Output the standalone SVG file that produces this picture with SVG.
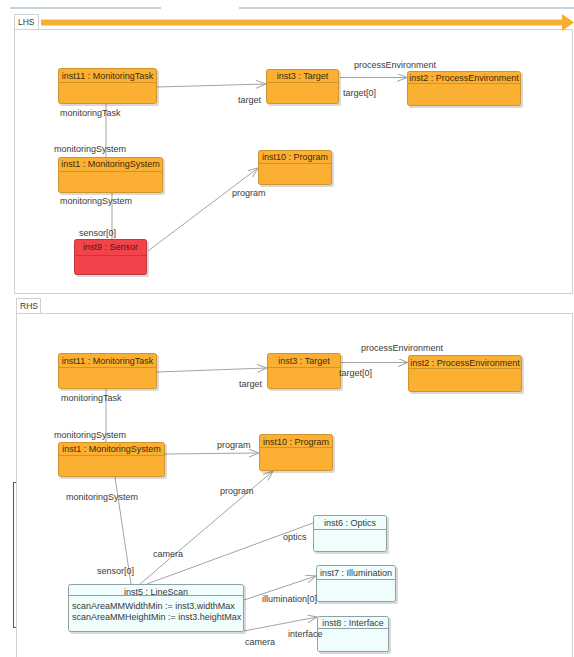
<svg xmlns="http://www.w3.org/2000/svg" width="574" height="657" viewBox="0 0 574 657">
<style>
text{font-family:"Liberation Sans",Arial,sans-serif;font-size:9px;fill:#3a3a3a}
.hd{text-anchor:middle}
.o{fill:#fbb034;stroke:#d0942c;stroke-width:1}
.r{fill:#f2434b;stroke:#c7363c;stroke-width:1}
.c{fill:#effdfd;stroke:#8ea2a6;stroke-width:1}
.sh{fill:#000;opacity:0.15}
.lo{stroke:#d0942c;stroke-width:1}
.lr{stroke:#c7363c;stroke-width:1}
.lc{stroke:#8ea2a6;stroke-width:1}
.ot{fill:#3d2b0b}
.rt{fill:#5a1212}
.e{stroke:#a3a3a3;stroke-width:1;fill:none}
.a{marker-end:url(#arr)}
.panel{fill:#fff;stroke:#c9d3d8;stroke-width:1}
</style>
<defs>
<marker id="arr" markerUnits="userSpaceOnUse" markerWidth="12" markerHeight="10" refX="10" refY="4" orient="auto">
<path d="M0,0 L10,4 L0,8" fill="none" stroke="#a3a3a3" stroke-width="1"/>
</marker>
</defs>
<rect x="0" y="0" width="574" height="657" fill="#fff"/>
<g id="topbars">
<rect x="10" y="7" width="151" height="2" fill="#c8d2da"/>
<rect x="239" y="7" width="335" height="2" fill="#c8d2da"/>
</g>
<g id="lhs-panel">
<rect class="panel" x="14.5" y="29.5" width="558" height="264"/>
<rect x="14.5" y="14.5" width="24" height="15" fill="#fff" stroke="#c9d3d8"/>
<text x="18" y="25" style="font-size:8.5px">LHS</text>
<rect x="41" y="19.5" width="523" height="6" fill="#f9ad33"/>
<path d="M562,14 L574,22.5 L562,31 Z" fill="#f9ad33"/>
</g>
<g id="rhs-panel">
<rect class="panel" x="16.5" y="313.5" width="556" height="350"/>
<rect x="16.5" y="298.5" width="24" height="15" fill="#fff" stroke="#c9d3d8"/>
<text x="20" y="309" style="font-size:8.5px">RHS</text>
<line x1="13.5" y1="482" x2="13.5" y2="628" stroke="#555" stroke-width="1"/>
<line x1="13" y1="482.5" x2="16" y2="482.5" stroke="#555"/>
<line x1="13" y1="627.5" x2="16" y2="627.5" stroke="#555"/>
</g>
<g id="connectors">
<line class="e a" x1="157" y1="87" x2="266" y2="84"/>
<line class="e a" x1="340" y1="77.5" x2="407" y2="77.5"/>
<line class="e" x1="106" y1="104" x2="106" y2="157"/>
<line class="e" x1="112" y1="193" x2="112" y2="239"/>
<line class="e a" x1="148" y1="251" x2="258" y2="168"/>
<line class="e a" x1="157" y1="372" x2="267" y2="368"/>
<line class="e a" x1="341" y1="362.5" x2="408" y2="362.5"/>
<line class="e" x1="106" y1="389" x2="106" y2="442"/>
<line class="e a" x1="165" y1="454" x2="259" y2="453"/>
<line class="e" x1="115" y1="477" x2="131" y2="584"/>
<line class="e a" x1="140" y1="584" x2="273" y2="471"/>
<line class="e" x1="147" y1="584" x2="313" y2="523"/>
<line class="e a" x1="244" y1="600" x2="316" y2="576"/>
<line class="e a" x1="244" y1="631" x2="317" y2="617"/>
</g>
<g id="lhs-inst11">
<rect class="sh" x="60" y="70" width="99" height="36" rx="2"/>
<rect class="o" x="58.5" y="68.5" width="98" height="35" rx="2"/>
<line class="lo" x1="59" y1="82.5" x2="156" y2="82.5"/>
<text class="hd ot" x="107.5" y="79">inst11 : MonitoringTask</text>
</g>
<g id="lhs-inst3">
<rect class="sh" x="268" y="71" width="73" height="35" rx="2"/>
<rect class="o" x="266.5" y="69.5" width="72" height="34" rx="2"/>
<line class="lo" x1="267" y1="82.5" x2="338" y2="82.5"/>
<text class="hd ot" x="302.5" y="79">inst3 : Target</text>
</g>
<g id="lhs-inst2">
<rect class="sh" x="409" y="73" width="114" height="35" rx="2"/>
<rect class="o" x="407.5" y="71.5" width="113" height="34" rx="2"/>
<line class="lo" x1="408" y1="83.5" x2="520" y2="83.5"/>
<text class="hd ot" x="464" y="81">inst2 : ProcessEnvironment</text>
</g>
<g id="lhs-inst1">
<rect class="sh" x="60" y="159" width="105" height="36" rx="2"/>
<rect class="o" x="58.5" y="157.5" width="104" height="35" rx="2"/>
<line class="lo" x1="59" y1="171.5" x2="162" y2="171.5"/>
<text class="hd ot" x="110.5" y="167">inst1 : MonitoringSystem</text>
</g>
<g id="lhs-inst10">
<rect class="sh" x="260" y="152" width="74" height="35" rx="2"/>
<rect class="o" x="258.5" y="150.5" width="73" height="34" rx="2"/>
<line class="lo" x1="259" y1="163.5" x2="331" y2="163.5"/>
<text class="hd ot" x="295" y="160">inst10 : Program</text>
</g>
<g id="lhs-inst9">
<rect class="sh" x="76" y="241" width="73" height="36" rx="2"/>
<rect class="r" x="74.5" y="239.5" width="72" height="35" rx="2"/>
<line class="lr" x1="75" y1="255.5" x2="146" y2="255.5"/>
<text class="hd rt" x="110.5" y="250">inst9 : Sensor</text>
</g>
<g id="rhs-inst11">
<rect class="sh" x="60" y="355" width="99" height="36" rx="2"/>
<rect class="o" x="58.5" y="353.5" width="98" height="35" rx="2"/>
<line class="lo" x1="59" y1="367.5" x2="156" y2="367.5"/>
<text class="hd ot" x="107.5" y="364">inst11 : MonitoringTask</text>
</g>
<g id="rhs-inst3">
<rect class="sh" x="269" y="355" width="74" height="36" rx="2"/>
<rect class="o" x="267.5" y="353.5" width="73" height="35" rx="2"/>
<line class="lo" x1="268" y1="367.5" x2="340" y2="367.5"/>
<text class="hd ot" x="304" y="364">inst3 : Target</text>
</g>
<g id="rhs-inst2">
<rect class="sh" x="410" y="357" width="114" height="37" rx="2"/>
<rect class="o" x="408.5" y="355.5" width="113" height="36" rx="2"/>
<line class="lo" x1="409" y1="368.5" x2="521" y2="368.5"/>
<text class="hd ot" x="465" y="366">inst2 : ProcessEnvironment</text>
</g>
<g id="rhs-inst1">
<rect class="sh" x="60" y="444" width="107" height="35" rx="2"/>
<rect class="o" x="58.5" y="442.5" width="106" height="34" rx="2"/>
<line class="lo" x1="59" y1="455.5" x2="164" y2="455.5"/>
<text class="hd ot" x="111.5" y="452">inst1 : MonitoringSystem</text>
</g>
<g id="rhs-inst10">
<rect class="sh" x="261" y="436" width="74" height="37" rx="2"/>
<rect class="o" x="259.5" y="434.5" width="73" height="36" rx="2"/>
<line class="lo" x1="260" y1="447.5" x2="332" y2="447.5"/>
<text class="hd ot" x="296" y="445">inst10 : Program</text>
</g>
<g id="rhs-inst5">
<rect class="sh" x="70" y="586" width="176" height="48" rx="2"/>
<rect class="c" x="68.5" y="584.5" width="175" height="47" rx="2"/>
<line class="lc" x1="69" y1="595.5" x2="243" y2="595.5"/>
<text class="hd" x="156" y="595">inst5 : LineScan</text>
<text x="72" y="609">scanAreaMMWidthMin := inst3.widthMax</text>
<text x="72" y="619.5">scanAreaMMHeightMin := inst3.heightMax</text>
</g>
<g id="rhs-inst6">
<rect class="sh" x="315" y="517" width="74" height="37" rx="2"/>
<rect class="c" x="313.5" y="515.5" width="73" height="36" rx="2"/>
<line class="lc" x1="314" y1="529.5" x2="386" y2="529.5"/>
<text class="hd" x="350" y="526">inst6 : Optics</text>
</g>
<g id="rhs-inst7">
<rect class="sh" x="318" y="567" width="80" height="37" rx="2"/>
<rect class="c" x="316.5" y="565.5" width="79" height="36" rx="2"/>
<line class="lc" x1="317" y1="579.5" x2="395" y2="579.5"/>
<text class="hd" x="356" y="576">inst7 : Illumination</text>
</g>
<g id="rhs-inst8">
<rect class="sh" x="319" y="618" width="72" height="36" rx="2"/>
<rect class="c" x="317.5" y="616.5" width="71" height="35" rx="2"/>
<line class="lc" x1="318" y1="628.5" x2="388" y2="628.5"/>
<text class="hd" x="353" y="626">inst8 : Interface</text>
</g>
<g id="labels">
<text x="261" y="103" text-anchor="end">target</text>
<text x="354" y="68">processEnvironment</text>
<text x="343" y="96">target[0]</text>
<text x="60" y="116">monitoringTask</text>
<text x="54" y="152">monitoringSystem</text>
<text x="60" y="204">monitoringSystem</text>
<text x="79" y="236">sensor[0]</text>
<text x="232" y="196">program</text>
<text x="262" y="387" text-anchor="end">target</text>
<text x="361" y="351">processEnvironment</text>
<text x="339" y="376">target[0]</text>
<text x="61" y="401">monitoringTask</text>
<text x="54" y="438">monitoringSystem</text>
<text x="217" y="448">program</text>
<text x="66" y="500">monitoringSystem</text>
<text x="220" y="494">program</text>
<text x="153" y="557">camera</text>
<text x="97" y="574">sensor[0]</text>
<text x="283" y="540">optics</text>
<text x="262" y="602">illumination[0]</text>
<text x="288" y="637">interface</text>
<text x="245" y="645">camera</text>
</g>
</svg>
